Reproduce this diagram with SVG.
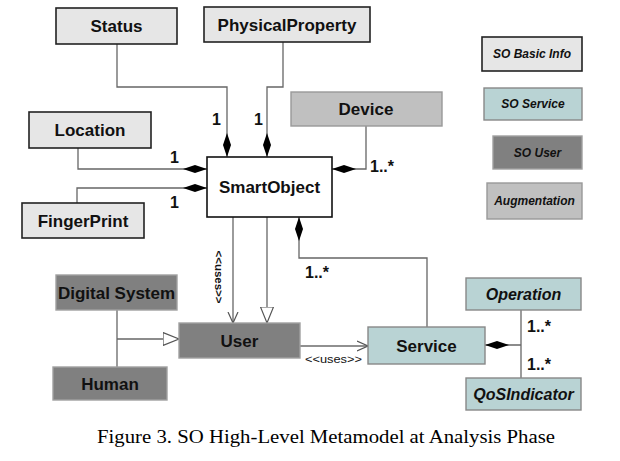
<svg xmlns="http://www.w3.org/2000/svg" width="620" height="461" viewBox="0 0 620 461">
<defs>
<style>
.lbl{font-family:"Liberation Sans",Arial,sans-serif;font-weight:bold;font-size:17px;fill:#111;text-anchor:middle}
.it{font-style:italic;font-size:16px}
.lg{font-family:"Liberation Sans",Arial,sans-serif;font-weight:bold;font-style:italic;font-size:12px;fill:#111;text-anchor:middle}
.m{font-family:"Liberation Sans",Arial,sans-serif;font-weight:bold;font-size:16px;fill:#111}
.basic{fill:#e6e6e6;stroke:#222;stroke-width:1.6}
.aug{fill:#c0c0c0;stroke:#999;stroke-width:1.4}
.usr{fill:#808080;stroke:#a0a0a0;stroke-width:1.4}
.svc{fill:#b9d3d4;stroke:#888;stroke-width:1.4}
.so{fill:#fff;stroke:#111;stroke-width:1.6}
.ln{fill:none;stroke:#666;stroke-width:1.3}
.dm{fill:#000}
</style>
<marker id="open" markerWidth="12" markerHeight="12" refX="11" refY="6" orient="auto" markerUnits="userSpaceOnUse">
<path d="M0,1 L11,6 L0,11" fill="none" stroke="#555" stroke-width="1.2"/>
</marker>
<marker id="tri" markerWidth="18" markerHeight="14" refX="16" refY="7" orient="auto" markerUnits="userSpaceOnUse">
<path d="M0,0.5 L16,7 L0,13.5 Z" fill="#fff" stroke="#555" stroke-width="1.2"/>
</marker>
</defs>
<rect width="620" height="461" fill="#fff"/>

<g id="connectors">
<!-- Status -->
<path class="ln" d="M117,44 V87 H227 V157"/>
<path class="dm" d="M227,133 L231,145 L227,157 L223,145 Z"/>
<text class="m" x="212" y="125">1</text>
<!-- PhysicalProperty -->
<path class="ln" d="M283,42 V87 H267 V157"/>
<path class="dm" d="M267,133 L271,145 L267,157 L263,145 Z"/>
<text class="m" x="254" y="125">1</text>
<!-- Location -->
<path class="ln" d="M78,148 V169 H207"/>
<path class="dm" d="M207,169 L195,173 L183,169 L195,165 Z"/>
<text class="m" x="170" y="163">1</text>
<!-- FingerPrint -->
<path class="ln" d="M77,203 V188 H207"/>
<path class="dm" d="M207,188 L195,192 L183,188 L195,184 Z"/>
<text class="m" x="170" y="208">1</text>
<!-- Device -->
<path class="ln" d="M366,126 V169 H332"/>
<path class="dm" d="M332,169 L344,165 L356,169 L344,173 Z"/>
<text class="m" x="370" y="172">1..*</text>
<!-- SmartObject - Service -->
<path class="ln" d="M299,217 V258 H427 V327"/>
<path class="dm" d="M299,217 L303,229 L299,241 L295,229 Z"/>
<text class="m" x="305" y="278">1..*</text>
<!-- SmartObject uses User -->
<path class="ln" d="M233,217 V323" marker-end="url(#open)"/>
<text font-family="Liberation Sans,Arial,sans-serif" font-weight="bold" font-size="11" fill="#111" x="-26.5" y="4" textLength="53" lengthAdjust="spacingAndGlyphs" transform="translate(219,277) rotate(90)">&lt;&lt;uses&gt;&gt;</text>
<!-- SmartObject generalization User -->
<path class="ln" d="M267,217 V323" marker-end="url(#tri)"/>
<!-- Digital System / Human to User -->
<path class="ln" d="M117,310 V367"/>
<path class="ln" d="M117,339 H179" marker-end="url(#tri)"/>
<!-- User uses Service -->
<path fill="none" stroke="#222" stroke-width="1.2" d="M300,346 H368" marker-end="url(#open)"/>
<text font-family="Liberation Sans,Arial,sans-serif" font-size="11" fill="#111" x="305" y="363" textLength="57" lengthAdjust="spacingAndGlyphs">&lt;&lt;uses&gt;&gt;</text>
<!-- Service - Operation/QoS -->
<path class="ln" d="M485,345 H521"/>
<path class="ln" d="M521,310 V378"/>
<path class="dm" d="M485,345 L497,341 L509,345 L497,349 Z"/>
<text class="m" x="527" y="332">1..*</text>
<text class="m" x="527" y="370">1..*</text>
</g>

<g id="status"><rect class="basic" x="56" y="8" width="121" height="36"/><text class="lbl" x="116.5" y="32">Status</text></g>
<g id="physicalproperty"><rect class="basic" x="204" y="7" width="166" height="35"/><text class="lbl" x="287" y="31">PhysicalProperty</text></g>
<g id="location"><rect class="basic" x="29" y="112" width="122" height="36"/><text class="lbl" x="90" y="136">Location</text></g>
<g id="fingerprint"><rect class="basic" x="22" y="203" width="122" height="35"/><text class="lbl" x="83" y="227">FingerPrint</text></g>
<g id="smartobject"><rect class="so" x="207" y="157" width="125" height="60"/><text class="lbl" x="269.5" y="193">SmartObject</text></g>
<g id="device"><rect class="aug" x="291" y="92" width="151" height="34"/><text class="lbl" x="366" y="115">Device</text></g>
<g id="digitalsystem"><rect class="usr" x="56" y="275" width="121" height="35"/><text class="lbl" x="116.5" y="299" font-size="15">Digital System</text></g>
<g id="human"><rect class="usr" x="53" y="367" width="114" height="33"/><text class="lbl" x="110" y="390" font-size="15.5">Human</text></g>
<g id="user"><rect class="usr" x="179" y="323" width="121" height="35"/><text class="lbl" x="239.5" y="347">User</text></g>
<g id="service"><rect class="svc" x="368" y="327" width="117" height="37"/><text class="lbl" x="426.5" y="352">Service</text></g>
<g id="operation"><rect class="svc" x="466" y="278" width="115" height="32"/><text class="lbl it" x="523.5" y="300">Operation</text></g>
<g id="qosindicator"><rect class="svc" x="466" y="378" width="115" height="32"/><text class="lbl it" x="523.5" y="400">QoSIndicator</text></g>

<g id="legend">
<g id="legend-basic"><rect class="basic" x="482" y="37" width="100" height="34"/><text class="lg" x="532" y="58">SO Basic Info</text></g>
<g id="legend-service"><rect class="svc" x="484" y="88" width="98" height="32"/><text class="lg" x="533" y="108">SO Service</text></g>
<g id="legend-user"><rect class="usr" x="493" y="136" width="89" height="33"/><text class="lg" x="537.5" y="157">SO User</text></g>
<g id="legend-aug"><rect class="aug" x="487" y="183" width="95" height="36"/><text class="lg" x="534.5" y="205">Augmentation</text></g>
</g>

<text font-family="Liberation Serif,Times New Roman,serif" font-size="18" fill="#000" x="97" y="443" textLength="458" lengthAdjust="spacingAndGlyphs">Figure 3. SO High-Level Metamodel at Analysis Phase</text>
</svg>
